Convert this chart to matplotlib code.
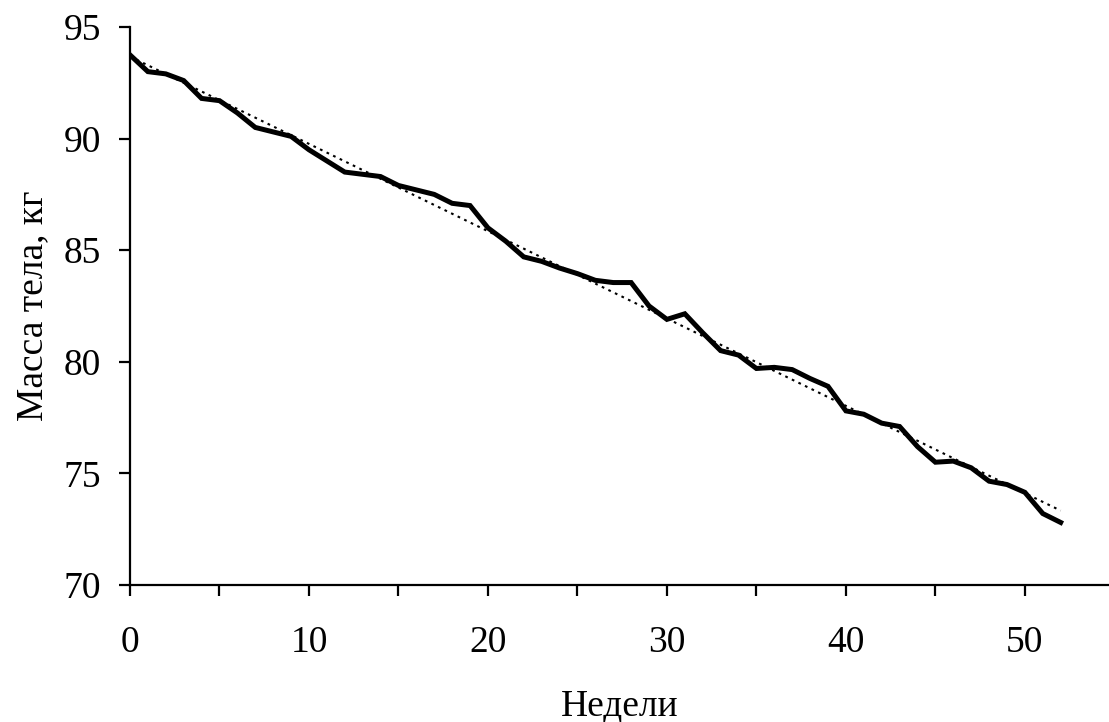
import numpy as np
import matplotlib
matplotlib.use('Agg')
import matplotlib.pyplot as plt

weeks = list(range(53))
mass = [93.75, 93.0, 92.9, 92.6, 91.8, 91.7, 91.15, 90.5, 90.3, 90.1,
        89.5, 89.0, 88.5, 88.4, 88.3, 87.9, 87.7, 87.5, 87.1, 87.0,
        86.0, 85.4, 84.7, 84.5, 84.2, 83.95, 83.65, 83.55, 83.55, 82.5,
        81.9, 82.15, 81.3, 80.5, 80.3, 79.7, 79.75, 79.65, 79.25, 78.9,
        77.8, 77.65, 77.25, 77.1, 76.2, 75.5, 75.55, 75.25, 74.65, 74.5,
        74.15, 73.2, 72.8]

plt.rcParams['font.family'] = ['Liberation Serif', 'DejaVu Serif']

fig = plt.figure(figsize=(11.09, 7.22), dpi=100)
ax = fig.add_axes([0.1172, 0.1898, 0.8828, 0.7728])

# linear trend
k, b = np.polyfit(weeks, mass, 1)
trend = [k * w + b for w in weeks]

ax.plot(weeks, trend, color='black', linestyle=(0, (1.3, 2.2)), linewidth=1.5)
ax.plot(weeks, mass, color='black', linewidth=3.6, solid_joinstyle='miter')

ax.set_xlim(0, 54.7)
ax.set_ylim(70, 95)
ax.set_xticks(range(0, 55, 5))
ax.set_xticklabels([str(t) if t % 10 == 0 else '' for t in range(0, 55, 5)])
ax.set_yticks(range(70, 96, 5))

for side in ['top', 'right']:
    ax.spines[side].set_visible(False)
for side in ['left', 'bottom']:
    ax.spines[side].set_linewidth(1.6)

ax.tick_params(axis='both', direction='out', length=8, width=1.6, labelsize=27)
ax.tick_params(axis='x', pad=21)
ax.tick_params(axis='y', pad=13)

ax.set_xlabel('Недели', fontsize=27, labelpad=21)
ax.set_ylabel('Масса тела, кг', fontsize=27, labelpad=9)

fig.savefig('out.png', dpi=100)
